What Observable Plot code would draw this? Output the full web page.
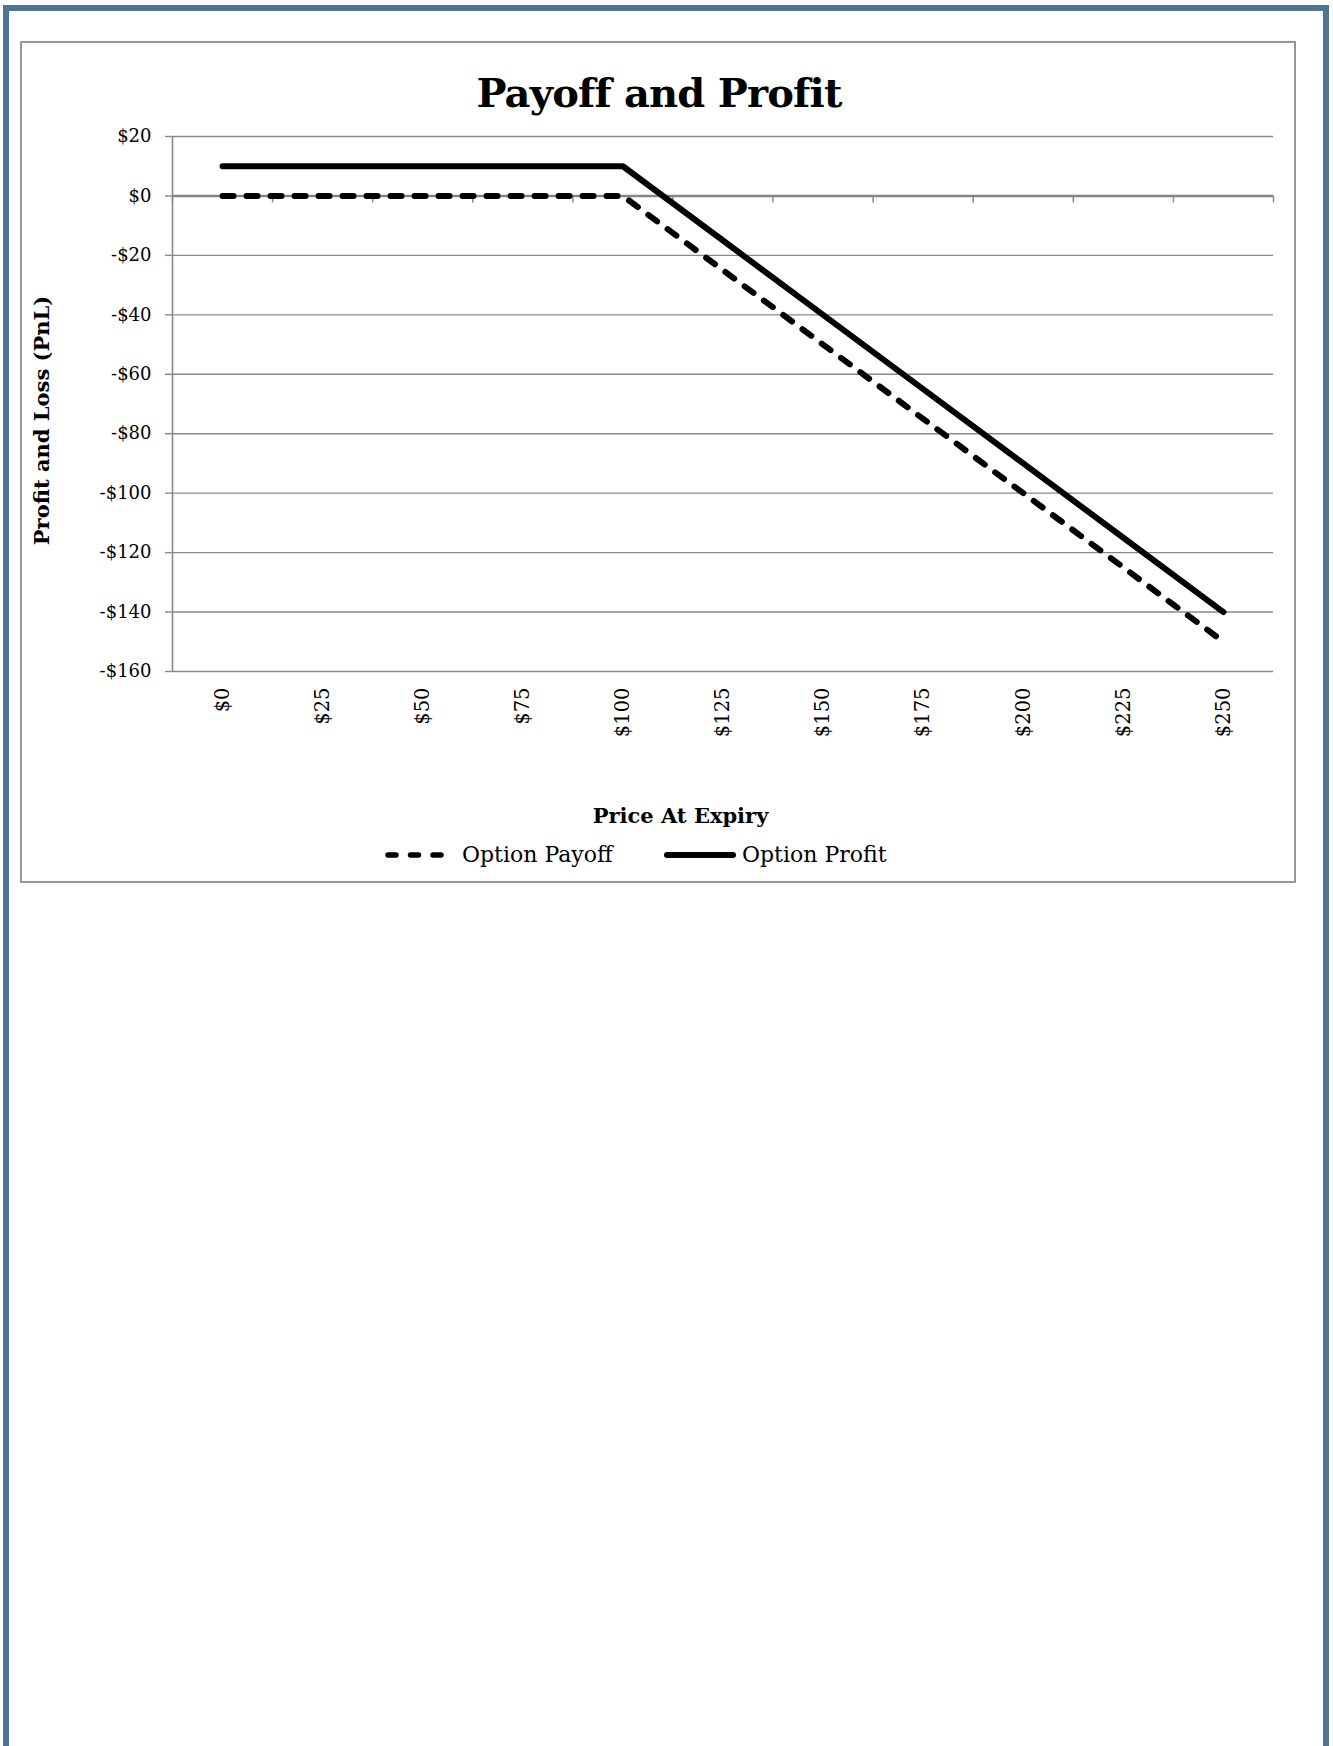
<!DOCTYPE html>
<html>
<head>
<meta charset="utf-8">
<script src="https://cdn.jsdelivr.net/npm/d3@7"></script>
<script src="https://cdn.jsdelivr.net/npm/@observablehq/plot@0.6"></script>
<style>
  html, body { margin: 0; padding: 0; background: #fff; }
  body { width: 1333px; height: 1746px; position: relative; overflow: hidden; font-family: "DejaVu Serif", serif; }
  #page-border { position: absolute; left: 3px; top: 5px; width: 1326px; height: 1760px; box-sizing: border-box; border: 6px solid #4f7594; border-bottom: none; }
  #frame { position: absolute; left: 20px; top: 41px; width: 1276px; height: 842px; box-sizing: border-box; border: 2px solid #979797; }
  #title { position: absolute; left: 0; width: 1318px; top: 73px; text-align: center; font: bold 40px/40px "DejaVu Serif", serif; letter-spacing: -0.8px; color: #000; }
  #chart { position: absolute; left: 0; top: 110px; }
  .leg { position: absolute; font: 22px/22px "DejaVu Serif", serif; color: #000; white-space: nowrap; }
  .sw { position: absolute; }
</style>
</head>
<body>
<div id="page-border"></div>
<div id="frame"></div>
<div id="title">Payoff and Profit</div>
<div id="chart"></div>
<svg class="sw" style="left:380px;top:849px" width="80" height="12">
  <line x1="8" x2="61" y1="6" y2="6" stroke="#000" stroke-width="5.5" stroke-linecap="round" stroke-dasharray="8,14.5"></line>
</svg>
<div class="leg" style="left:462px;top:844px">Option Payoff</div>
<svg class="sw" style="left:660px;top:849px" width="80" height="12">
  <line x1="7" x2="73" y1="6" y2="6" stroke="#000" stroke-width="6" stroke-linecap="round"></line>
</svg>
<div class="leg" style="left:742px;top:844px">Option Profit</div>
<script>
// ---- data ----
const prices = [0, 25, 50, 75, 100, 125, 150, 175, 200, 225, 250];
const payoff = [0, 0, 0, 0, 0, -25, -50, -75, -100, -125, -150];
const profit = [10, 10, 10, 10, 10, -15, -40, -65, -90, -115, -140];
const yTicks = [-160, -140, -120, -100, -80, -60, -40, -20, 0, 20];
const xLabel = "Price At Expiry";
const yLabel = "Profit and Loss (PnL)";

const payoffData = prices.map((p, i) => ({price: p, value: payoff[i]}));
const profitData = prices.map((p, i) => ({price: p, value: profit[i]}));
const step = prices[1] - prices[0];
const xDomain = [prices[0] - step / 2, prices[prices.length - 1] + step / 2];
const boundaries = d3.range(prices.length + 1).map(i => xDomain[0] + i * step);
const money = d => (d < 0 ? "-" : "") + "$" + Math.abs(d);
const grid = "#898989";

const chart = Plot.plot({
  width: 1333,
  height: 730,
  marginLeft: 172,
  marginRight: 60,
  marginTop: 26,
  marginBottom: 169,
  style: {fontFamily: "DejaVu Serif", background: "transparent", color: "#000"},
  x: {type: "linear", domain: xDomain},
  y: {domain: [yTicks[0], yTicks[yTicks.length - 1]]},
  marks: [
    Plot.ruleY(yTicks.filter(d => d !== 0), {stroke: grid, strokeWidth: 1.4}),
    Plot.ruleX([xDomain[0]], {stroke: grid, strokeWidth: 1.6}),
    Plot.ruleY([0], {stroke: "#858585", strokeWidth: 2.5}),
    Plot.ruleX(boundaries, {y1: 0, y2: 0, insetBottom: -7, stroke: grid, strokeWidth: 1.5}),
    Plot.axisY({ticks: yTicks, tickSize: 7, tickPadding: 14, tickFormat: money, fontSize: 18, stroke: grid, strokeWidth: 1.4, fill: "#000", label: null}),
    Plot.axisX({ticks: prices, tickSize: 0, tickPadding: 16, tickRotate: -90, tickFormat: d => "$" + d, fontSize: 19.5, fill: "#000", label: null}),
    Plot.line(payoffData, {x: "price", y: "value", stroke: "#000", strokeWidth: 6, strokeDasharray: "11,13", strokeLinecap: "round", strokeLinejoin: "round"}),
    Plot.line(profitData, {x: "price", y: "value", stroke: "#000", strokeWidth: 6, strokeLinecap: "round", strokeLinejoin: "round"}),
    Plot.text([yLabel], {frameAnchor: "left", text: d => d, rotate: -90, textAnchor: "middle", lineAnchor: "middle", dx: -130, dy: 16.5, fontSize: 21, fontWeight: "bold", fill: "#000"}),
    Plot.text([xLabel], {frameAnchor: "bottom", text: d => d, textAnchor: "middle", lineAnchor: "middle", dx: -42.5, dy: 145, fontSize: 21, fontWeight: "bold", fill: "#000"})
  ]
});
document.getElementById("chart").appendChild(chart);
</script>
</body>
</html>
